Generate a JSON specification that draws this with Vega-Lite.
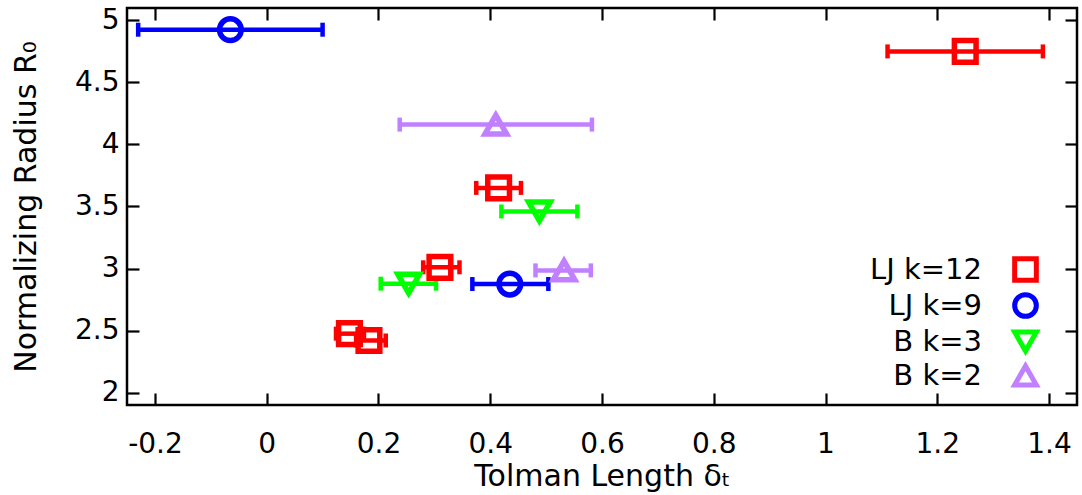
{
  "$schema": "https://vega.github.io/schema/vega-lite/v6.json",
  "width": 950,
  "height": 397,
  "autosize": "none",
  "padding": {"left": 127, "top": 8, "right": 5, "bottom": 90},
  "background": "white",
  "config": {
    "font": "DejaVu Sans",
    "view": {"stroke": "black", "strokeWidth": 2.5},
    "axis": {
      "grid": false,
      "domain": false,
      "tickColor": "black",
      "tickWidth": 2.2,
      "tickSize": -12,
      "labelFontSize": 28,
      "labelColor": "black",
      "titleFontSize": 30,
      "titleFontWeight": "normal",
      "titleColor": "black"
    }
  },
  "data": {
    "values": [
      {"series": "LJ k=12", "x": 1.25, "y": 4.75, "xlo": 1.111, "xhi": 1.389},
      {"series": "LJ k=12", "x": 0.415, "y": 3.65, "xlo": 0.375, "xhi": 0.455},
      {"series": "LJ k=12", "x": 0.31, "y": 3.01, "xlo": 0.28, "xhi": 0.345},
      {"series": "LJ k=12", "x": 0.148, "y": 2.475, "xlo": 0.124, "xhi": 0.174},
      {"series": "LJ k=12", "x": 0.183, "y": 2.42, "xlo": 0.16, "xhi": 0.213},
      {"series": "LJ k=9", "x": -0.065, "y": 4.925, "xlo": -0.23, "xhi": 0.1},
      {"series": "LJ k=9", "x": 0.435, "y": 2.875, "xlo": 0.368, "xhi": 0.504},
      {"series": "B k=3", "x": 0.488, "y": 3.46, "xlo": 0.42, "xhi": 0.556},
      {"series": "B k=3", "x": 0.254, "y": 2.878, "xlo": 0.204, "xhi": 0.303},
      {"series": "B k=2", "x": 0.41, "y": 4.16, "xlo": 0.238, "xhi": 0.582},
      {"series": "B k=2", "x": 0.532, "y": 2.985, "xlo": 0.481, "xhi": 0.58}
    ]
  },
  "layer": [
    {
      "mark": {"type": "errorbar", "opacity": 1, "thickness": 4.5, "ticks": {"size": 14, "thickness": 4.5, "opacity": 1}, "rule": {"opacity": 1}},
      "encoding": {
        "x": {
          "field": "xlo", "type": "quantitative",
          "scale": {"domain": [-0.25, 1.45], "nice": false, "zero": false},
          "axis": {
            "orient": "bottom",
            "values": [-0.2, 0, 0.2, 0.4, 0.6, 0.8, 1, 1.2, 1.4],
            "format": "~g",
            "labelExpr": "replace(datum.label, '−', '-')",
            "labelPadding": 37,
            "title": "Tolman Length  δₜ",
            "titlePadding": 3
          }
        },
        "x2": {"field": "xhi"},
        "y": {
          "field": "y", "type": "quantitative",
          "scale": {"domain": [1.9, 5.1], "nice": false, "zero": false},
          "axis": {
            "orient": "left",
            "values": [2, 2.5, 3, 3.5, 4, 4.5, 5],
            "format": "~g",
            "labelPadding": 20,
            "title": "Normalizing Radius  R₀",
            "titlePadding": 33
          }
        },
        "color": {
          "field": "series", "type": "nominal",
          "scale": {"domain": ["LJ k=12", "LJ k=9", "B k=3", "B k=2"], "range": ["#ff0000", "#0000ff", "#00ff00", "#c080ff"]},
          "legend": null
        }
      }
    },
    {
      "mark": {"type": "point", "filled": false, "strokeWidth": 5.5, "size": 470, "opacity": 1},
      "encoding": {
        "x": {
          "field": "x", "type": "quantitative",
          "axis": {"orient": "top", "values": [-0.2, 0, 0.2, 0.4, 0.6, 0.8, 1, 1.2, 1.4], "labels": false, "title": null}
        },
        "y": {
          "field": "y", "type": "quantitative",
          "axis": {"orient": "right", "values": [2, 2.5, 3, 3.5, 4, 4.5, 5], "labels": false, "title": null}
        },
        "color": {
          "field": "series", "type": "nominal",
          "scale": {"domain": ["LJ k=12", "LJ k=9", "B k=3", "B k=2"], "range": ["#ff0000", "#0000ff", "#00ff00", "#c080ff"]},
          "legend": {
            "orient": "none",
            "legendX": 884,
            "legendY": 247,
            "title": null,
            "padding": 0,
            "labelAlign": "right",
            "labelOffset": -58,
            "labelFontSize": 29,
            "labelColor": "black",
            "symbolSize": 470,
            "symbolStrokeWidth": 5,
            "symbolOpacity": 1,
            "rowPadding": -7
          }
        },
        "shape": {
          "field": "series", "type": "nominal",
          "scale": {"domain": ["LJ k=12", "LJ k=9", "B k=3", "B k=2"], "range": ["square", "circle", "triangle-down", "triangle-up"]},
          "legend": {
            "orient": "none",
            "legendX": 884,
            "legendY": 247,
            "title": null,
            "padding": 0,
            "labelAlign": "right",
            "labelOffset": -58,
            "labelFontSize": 29,
            "labelColor": "black",
            "symbolSize": 470,
            "symbolStrokeWidth": 5,
            "symbolOpacity": 1,
            "rowPadding": -7
          }
        }
      }
    }
  ],
  "resolve": {"axis": {"x": "independent", "y": "independent"}, "legend": {"color": "independent", "shape": "independent"}}
}
